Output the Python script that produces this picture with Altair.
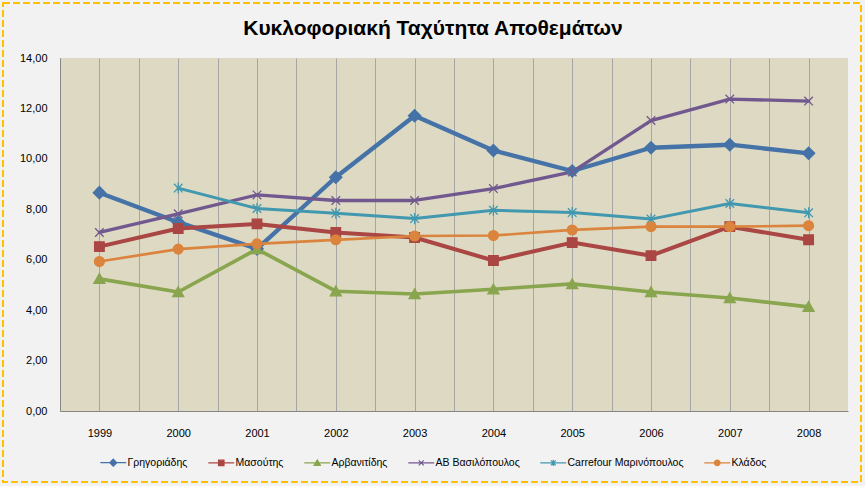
import altair as alt
import pandas as pd

years = [1999, 2000, 2001, 2002, 2003, 2004, 2005, 2006, 2007, 2008]
series_names = ["Γρηγοριάδης", "Μασούτης", "Αρβανιτίδης", "AB Βασιλόπουλος",
                "Carrefour Μαρινόπουλος", "Κλάδος"]
grigoriadis = [8.66, 7.49, 6.43, 9.27, 11.71, 10.33, 9.52, 10.44, 10.56, 10.22]
masoutis = [6.52, 7.24, 7.42, 7.08, 6.88, 5.97, 6.68, 6.16, 7.31, 6.79]
arvanitidis = [5.24, 4.72, 6.42, 4.75, 4.64, 4.83, 5.04, 4.72, 4.48, 4.13]
ab_vasilopoulos = [7.08, 7.82, 8.57, 8.35, 8.35, 8.82, 9.48, 11.52, 12.37, 12.29]
carrefour = [None, 8.84, 8.03, 7.84, 7.63, 7.96, 7.87, 7.61, 8.23, 7.86]
klados = [5.93, 6.42, 6.63, 6.79, 6.94, 6.96, 7.18, 7.31, 7.31, 7.35]
y_ticks = [0, 2, 4, 6, 8, 10, 12, 14]

colors = ["#4572A7", "#AA4643", "#89A54E", "#71588F", "#4198AF", "#DB843D"]
line_widths = [4.3, 2.7, 2.7, 2.7, 2.7, 2.7]
marker_paths = [
    "M0,-1L1,0L0,1L-1,0Z",
    "M-0.78,-0.78H0.78V0.78H-0.78Z",
    "M0,-0.85L0.9,0.75H-0.9Z",
    "M-0.7,-0.7L0.7,0.7M-0.7,0.7L0.7,-0.7",
    "M-0.7,-0.7L0.7,0.7M-0.7,0.7L0.7,-0.7M0,-0.9V0.9",
    "M0.8,0A0.8,0.8 0 1,1 -0.8,0A0.8,0.8 0 1,1 0.8,0Z",
]
legend_paths = [p + "M-3.7,0H3.7" for p in marker_paths]

series_values = [grigoriadis, masoutis, arvanitidis, ab_vasilopoulos, carrefour, klados]
rows = []
for name, vals in zip(series_names, series_values):
    for yr, v in zip(years, vals):
        if v is not None:
            rows.append({"year": yr, "series": name, "value": v})
df = pd.DataFrame(rows)

FONT = "Liberation Sans"

x_enc = alt.X(
    "year:Q",
    scale=alt.Scale(domain=[1998.5, 2008.5], nice=False, zero=False),
    axis=alt.Axis(
        values=[1998.5 + 0.5 * i for i in range(20)],
        labelExpr="datum.value % 1 == 0 ? '' + datum.value : ''",
        grid=True, gridColor="#A6A6A6", gridWidth=1,
        ticks=False, labelPadding=16, domainColor="#868686",
        labelFont=FONT, labelFontSize=11, labelColor="black",
        labelOverlap=False, labelFlush=False, labelBound=False, title=None,
    ),
)
y_enc = alt.Y(
    "value:Q",
    scale=alt.Scale(domain=[0, 14], nice=False),
    axis=alt.Axis(
        values=y_ticks,
        labelExpr="replace(format(datum.value, '.2f'), '.', ',')",
        grid=False, ticks=False, labelPadding=13, domainColor="#868686",
        labelFont=FONT, labelFontSize=11, labelColor="black",
        labelFlush=False, title=None,
    ),
)

color_scale = alt.Scale(domain=series_names, range=colors)
base = alt.Chart(df)

lines = base.mark_line(strokeJoin="round", strokeCap="round").encode(
    x=x_enc, y=y_enc,
    color=alt.Color("series:N", scale=color_scale, legend=None),
    strokeWidth=alt.StrokeWidth("series:N",
                                scale=alt.Scale(domain=series_names, range=line_widths),
                                legend=None),
)

points = base.mark_point(filled=True, size=150, strokeWidth=1.3, opacity=1).encode(
    x=x_enc, y=y_enc,
    fill=alt.Fill("series:N", scale=color_scale, legend=None),
    stroke=alt.Stroke("series:N", scale=color_scale, legend=None),
    shape=alt.Shape("series:N", scale=alt.Scale(domain=series_names, range=marker_paths),
                    legend=None),
)

leg = alt.Legend(
    title=None, orient="none", legendX=48, legendY=399, direction="horizontal",
    symbolSize=49, symbolStrokeWidth=1.2, symbolOpacity=1,
    labelOffset=9, columnPadding=17, labelFont=FONT, labelFontSize=10.5,
    labelColor="black",
)
legend_layer = base.mark_point(filled=True, opacity=0).encode(
    x=x_enc, y=y_enc,
    fill=alt.Fill("series:N", scale=color_scale, legend=leg),
    stroke=alt.Stroke("series:N", scale=color_scale, legend=leg),
    shape=alt.Shape("series:N", scale=alt.Scale(domain=series_names, range=legend_paths),
                    legend=leg),
)

border = alt.Chart(pd.DataFrame({"k": [0]})).mark_rect(
    fillOpacity=0, stroke="#FFC000", strokeWidth=2, strokeDash=[7, 3]
).encode(x=alt.value(-57), x2=alt.value(801), y=alt.value(-55), y2=alt.value(424))

chart = alt.layer(lines, points, legend_layer, border).resolve_scale(
    shape="independent", fill="independent", stroke="independent"
).properties(
    width=788, height=353,
    title=alt.TitleParams(
        text="Κυκλοφοριακή Ταχύτητα Αποθεμάτων", font=FONT, fontSize=21,
        fontWeight="bold", color="black", anchor="middle", dx=-21, offset=-37,
    ),
    autosize=alt.AutoSizeParams(type="none"),
    padding={"left": 60, "top": 58, "right": 17, "bottom": 75},
    background="#F2F2F2",
).configure_view(fill="#DDD9C3", strokeWidth=0)

chart.save("out.html", embed_options={"renderer": "svg", "actions": False})
